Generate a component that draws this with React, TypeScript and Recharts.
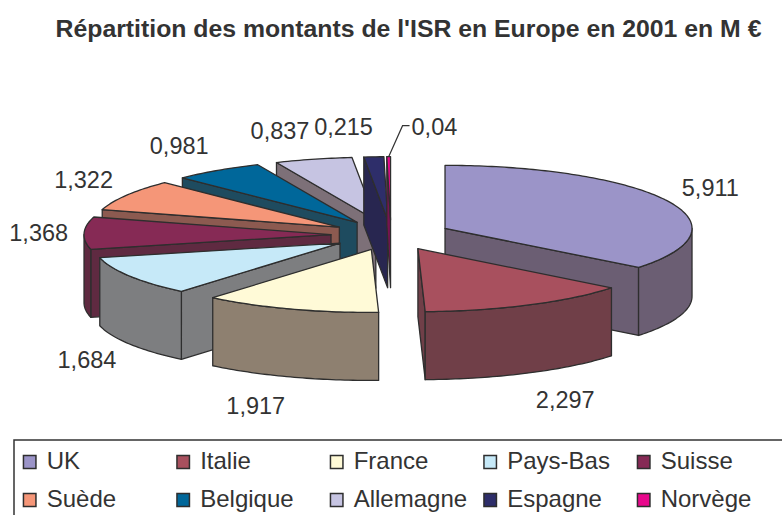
import React from 'react';
import { PieChart, Pie, Legend } from 'recharts';

// ---------- data ----------
const TITLE = "Répartition des montants de l'ISR en Europe en 2001 en M €";
const COUNTRIES = ['UK', 'Italie', 'France', 'Pays-Bas', 'Suisse', 'Suède', 'Belgique', 'Allemagne', 'Espagne', 'Norvège'];
const AMOUNTS = [5.911, 2.297, 1.917, 1.684, 1.368, 1.322, 0.981, 0.837, 0.215, 0.04];
const VALUE_LABELS = ['5,911', '2,297', '1,917', '1,684', '1,368', '1,322', '0,981', '0,837', '0,215', '0,04'];
const TOP_COLORS = ['#9B94C8', '#A8505E', '#FFFAD7', '#C6E9F8', '#862A55', '#F59678', '#00679A', '#C6C4E2', '#2E2E6A', '#E8088C'];
const WALL_COLORS = ['#6B5E73', '#703F48', '#8E8070', '#7D7E80', '#5F2A41', '#8C5A50', '#1E4B5F', '#7D7078', '#282650', '#781450'];

const chartData = COUNTRIES.map((name, i) => ({ name, value: AMOUNTS[i] }));

// ---------- layout / style ----------
const W = 782;
const H = 515;
const CX = 391;
const CY = 235;
const RX = 247;
const TILT = 0.255;
const DEPTH = 68;
const EXPLODE = 60;
const LABEL_GAP_X = 16;
const LABEL_GAP_Y = 30;
const LAYERS = 40;
const FONT = '"Liberation Sans", Arial, Helvetica, sans-serif';
const INK = '#333333';
const EDGE = '#2E2E2E';
const RAD = Math.PI / 180;

type P = [number, number];

function proj(cx: number, cy: number, r: number, a: number): P {
  return [cx + r * Math.cos(a * RAD), cy - r * TILT * Math.sin(a * RAD)];
}

function arcPts(cx: number, cy: number, r: number, a1: number, a2: number, dy = 0): P[] {
  const n = Math.max(2, Math.ceil(Math.abs(a2 - a1)) + 1);
  const pts: P[] = [];
  for (let i = 0; i < n; i++) {
    const a = a1 + ((a2 - a1) * i) / (n - 1);
    const [x, y] = proj(cx, cy, r, a);
    pts.push([x, y + dy]);
  }
  return pts;
}

const toPath = (pts: P[]) => 'M' + pts.map((p) => p[0].toFixed(2) + ',' + p[1].toFixed(2)).join('L') + 'Z';

function explodedCenter(p: any): P {
  const m = p.midAngle;
  return [p.cx + EXPLODE * Math.cos(m * RAD), p.cy - EXPLODE * TILT * Math.sin(m * RAD)];
}

function layerOf(mid: number) {
  const k = Math.floor(((1 - Math.sin(mid * RAD)) / 2) * LAYERS);
  return Math.min(LAYERS - 1, Math.max(0, k));
}

function slice3D(p: any) {
  const [ex, ey] = explodedCenter(p);
  const r = p.outerRadius;
  const lo = Math.min(p.startAngle, p.endAngle);
  const hi = Math.max(p.startAngle, p.endAngle);
  const top = TOP_COLORS[p.index];
  const wall = WALL_COLORS[p.index];
  const walls: React.ReactNode[] = [];

  const radial = (a: number, key: string) => {
    const [x, y] = proj(ex, ey, r, a);
    walls.push(
      <path key={key} d={toPath([[ex, ey], [x, y], [x, y + DEPTH], [ex, ey + DEPTH]])} fill={wall} stroke={EDGE} strokeWidth={1.3} strokeLinejoin="round" />
    );
  };
  if (Math.cos(hi * RAD) < -1e-6) radial(hi, 'rs');
  if (Math.cos(lo * RAD) > 1e-6) radial(lo, 're');

  // outer curved wall, visible on the front half
  for (let n = -2; n <= 1; n++) {
    const a = Math.max(lo, -180 + 360 * n);
    const b = Math.min(hi, 360 * n);
    if (b - a > 0.01) {
      const upper = arcPts(ex, ey, r, a, b);
      const lower = arcPts(ex, ey, r, b, a, DEPTH);
      walls.push(
        <path key={'o' + n} d={toPath([...upper, ...lower])} fill={wall} stroke={EDGE} strokeWidth={1.3} strokeLinejoin="round" />
      );
    }
  }

  const face = [[ex, ey] as P, ...arcPts(ex, ey, r, hi, lo)];
  return (
    <g>
      {walls}
      <path d={toPath(face)} fill={top} stroke={EDGE} strokeWidth={1.3} strokeLinejoin="round" />
    </g>
  );
}

function valueLabel(p: any) {
  const m = p.midAngle;
  const c = Math.cos(m * RAD);
  const s = Math.sin(m * RAD);
  const [ex, ey] = explodedCenter(p);
  const ax = ex + (p.outerRadius + LABEL_GAP_X) * c;
  const ay = ey - (p.outerRadius * TILT + LABEL_GAP_Y) * s + (s < 0 ? DEPTH : 0);
  const txt = VALUE_LABELS[p.index];
  const textStyle = { fontFamily: FONT, fontSize: 23.5, fill: INK };
  if (p.percent < 0.005) {
    const [ox, oy] = proj(ex, ey, p.outerRadius, m);
    const x1 = ax + 14;
    const y1 = ay - 1;
    return (
      <g>
        <polyline points={`${ox},${oy} ${x1},${y1} ${x1 + 7},${y1}`} fill="none" stroke={INK} strokeWidth={1.2} />
        <text x={x1 + 9} y={ay} dy="0.36em" textAnchor="start" style={textStyle}>{txt}</text>
      </g>
    );
  }
  return (
    <text x={ax} y={ay} dy="0.36em" textAnchor={c >= 0 ? 'start' : 'end'} style={textStyle}>
      {txt}
    </text>
  );
}

const LEG_COL_X = [22.7, 176.2, 329.7, 483.2, 636.7];
const LEG_ROW_BASE = [469, 507];

function renderLegend() {
  return (
    <svg width={W} height={85} style={{ display: 'block' }}>
      <path d={`M14,${85}L14,10L${W},10`} fill="none" stroke={INK} strokeWidth={1.5} />
      {COUNTRIES.map((name, i) => {
        const col = i % 5;
        const row = Math.floor(i / 5);
        const x = LEG_COL_X[col];
        const base = LEG_ROW_BASE[row] - 430;
        return (
          <g key={name}>
            <rect x={x + 0.75} y={base - 13.5} width={12.5} height={13} fill={TOP_COLORS[i]} stroke={EDGE} strokeWidth={1.5} />
            <text x={x + 24} y={base} style={{ fontFamily: FONT, fontSize: 24, fill: INK }}>{name}</text>
          </g>
        );
      })}
    </svg>
  );
}

export default function App() {
  const layers = Array.from({ length: LAYERS }, (_, L) => (
    <Pie
      key={'layer' + L}
      data={chartData}
      dataKey="value"
      nameKey="name"
      cx={CX}
      cy={CY}
      outerRadius={RX}
      startAngle={90}
      endAngle={-270}
      fill="none"
      stroke="none"
      legendType="none"
      isAnimationActive={false}
      labelLine={false}
      label={(p: any) => (layerOf(p.midAngle) === L ? slice3D(p) : <g />)}
    />
  ));
  return (
    <div style={{ position: 'absolute', left: 0, top: 0, width: W, height: H, overflow: 'hidden', background: '#ffffff' }}>
      <PieChart width={W} height={H} margin={{ top: 0, right: 0, bottom: 0, left: 0 }}>
        {layers}
        <Pie
          data={chartData}
          dataKey="value"
          nameKey="name"
          cx={CX}
          cy={CY}
          outerRadius={RX}
          startAngle={90}
          endAngle={-270}
          fill="none"
          stroke="none"
          isAnimationActive={false}
          labelLine={false}
          label={(p: any) => valueLabel(p)}
        />
        <Legend content={renderLegend} wrapperStyle={{ left: 0, top: 430, width: W, height: 85 }} />
      </PieChart>
      <svg width={W} height={60} style={{ position: 'absolute', left: 0, top: 0 }}>
        <text x={408.5} y={37} textAnchor="middle" style={{ fontFamily: FONT, fontSize: 24.8, fontWeight: 'bold', fill: INK }}>
          {TITLE}
        </text>
      </svg>
    </div>
  );
}
